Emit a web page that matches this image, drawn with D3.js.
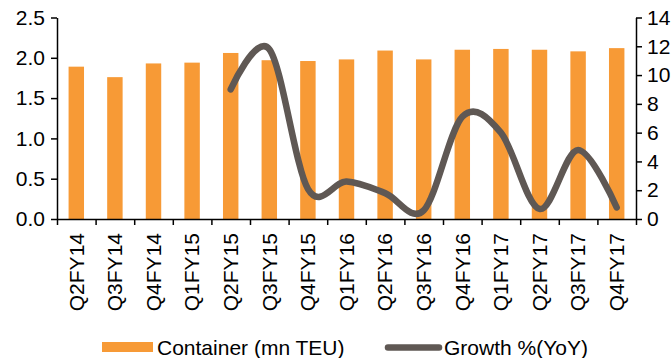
<!DOCTYPE html>
<html>
<head>
<meta charset="utf-8">
<script src="https://cdn.jsdelivr.net/npm/d3@7"></script>
<style>
  html, body { margin: 0; padding: 0; background: #fff; }
  svg { display: block; }
  text { font-family: "Liberation Sans", Arial, sans-serif; fill: #000; }
</style>
</head>
<body>
<svg id="chart" width="672" height="358"></svg>
<script>
// Quarterly container volumes (mn TEU) and YoY growth (%)
const quarters = ["Q2FY14","Q3FY14","Q4FY14","Q1FY15","Q2FY15","Q3FY15","Q4FY15",
                  "Q1FY16","Q2FY16","Q3FY16","Q4FY16","Q1FY17","Q2FY17","Q3FY17","Q4FY17"];
const container = [1.89, 1.76, 1.93, 1.94, 2.06, 1.97, 1.96,
                   1.98, 2.09, 1.98, 2.10, 2.11, 2.10, 2.08, 2.12];
const growth = [null, null, null, null, 9.0, 11.8, 2.1,
                2.6, 1.8, 0.6, 7.1, 6.0, 0.7, 4.8, 0.8];
const leftTicks = [0, 0.5, 1.0, 1.5, 2.0, 2.5];
const rightTicks = [0, 2, 4, 6, 8, 10, 12, 14];

const svg = d3.select("#chart");
const plotLeft = 57, plotRight = 636, plotTop = 17.5, plotBottom = 219;
const fontSize = 21;

const x = d3.scaleBand().domain(quarters).range([plotLeft, plotRight])
  .paddingInner(0.6).paddingOuter(0.3);
const yL = d3.scaleLinear().domain([0, 2.5]).range([plotBottom, plotTop]);
const yR = d3.scaleLinear().domain([0, 14]).range([plotBottom, plotTop]);
const xEdge = d3.scaleLinear().domain([0, quarters.length]).range([plotLeft, plotRight]);

// bars
svg.append("g").selectAll("rect").data(quarters).join("rect")
  .attr("x", d => x(d))
  .attr("width", x.bandwidth())
  .attr("y", (d, i) => yL(container[i]))
  .attr("height", (d, i) => yL(0) - yL(container[i]))
  .attr("fill", "#F79A36");

// growth line
const pts = quarters.map((q, i) => ({ q, v: growth[i] })).filter(d => d.v != null);
svg.append("path")
  .datum(pts)
  .attr("fill", "none")
  .attr("stroke", "#5F5854")
  .attr("stroke-width", 6.5)
  .attr("stroke-linecap", "round")
  .attr("stroke-linejoin", "round")
  .attr("d", d3.line()
    .x(d => x(d.q) + x.bandwidth() / 2)
    .y(d => yR(d.v))
    .curve(d3.curveCardinal.tension(0)));

// axes
function styleAxis(g) {
  g.select(".domain").attr("stroke", "#000").attr("stroke-width", 1.5);
  g.selectAll(".tick line").attr("stroke", "#000").attr("stroke-width", 1.5);
  g.selectAll(".tick text").attr("font-size", fontSize)
    .attr("font-family", "Liberation Sans, Arial, sans-serif");
}

svg.append("g")
  .attr("transform", `translate(${plotLeft},0)`)
  .call(d3.axisLeft(yL).tickValues(leftTicks).tickFormat(d3.format(".1f"))
    .tickSize(6).tickSizeOuter(0).tickPadding(6))
  .call(styleAxis);

svg.append("g")
  .attr("transform", `translate(${plotRight},0)`)
  .call(d3.axisRight(yR).tickValues(rightTicks).tickFormat(d3.format("d"))
    .tickSize(6).tickSizeOuter(0).tickPadding(5))
  .call(styleAxis);

svg.append("g")
  .attr("transform", `translate(0,${plotBottom})`)
  .call(d3.axisBottom(xEdge).tickValues(d3.range(quarters.length + 1))
    .tickFormat("").tickSize(6).tickSizeOuter(0))
  .call(styleAxis);

// category labels, rotated
svg.append("g").selectAll("text").data(quarters).join("text")
  .attr("transform", d => `translate(${x(d) + x.bandwidth() / 2},233) rotate(-90)`)
  .attr("text-anchor", "end")
  .attr("dy", "0.35em")
  .attr("font-size", fontSize)
  .text(d => d);

// legend
const legend = svg.append("g");
legend.append("rect").attr("x", 102).attr("y", 342).attr("width", 51).attr("height", 10)
  .attr("fill", "#F79A36");
legend.append("text").attr("x", 157).attr("y", 354.5).attr("font-size", fontSize)
  .text("Container (mn TEU)");
legend.append("line").attr("x1", 388).attr("x2", 439).attr("y1", 347.5).attr("y2", 347.5)
  .attr("stroke", "#5F5854").attr("stroke-width", 6.5).attr("stroke-linecap", "round");
legend.append("text").attr("x", 444).attr("y", 354.5).attr("font-size", fontSize)
  .text("Growth %(YoY)");
</script>
</body>
</html>
